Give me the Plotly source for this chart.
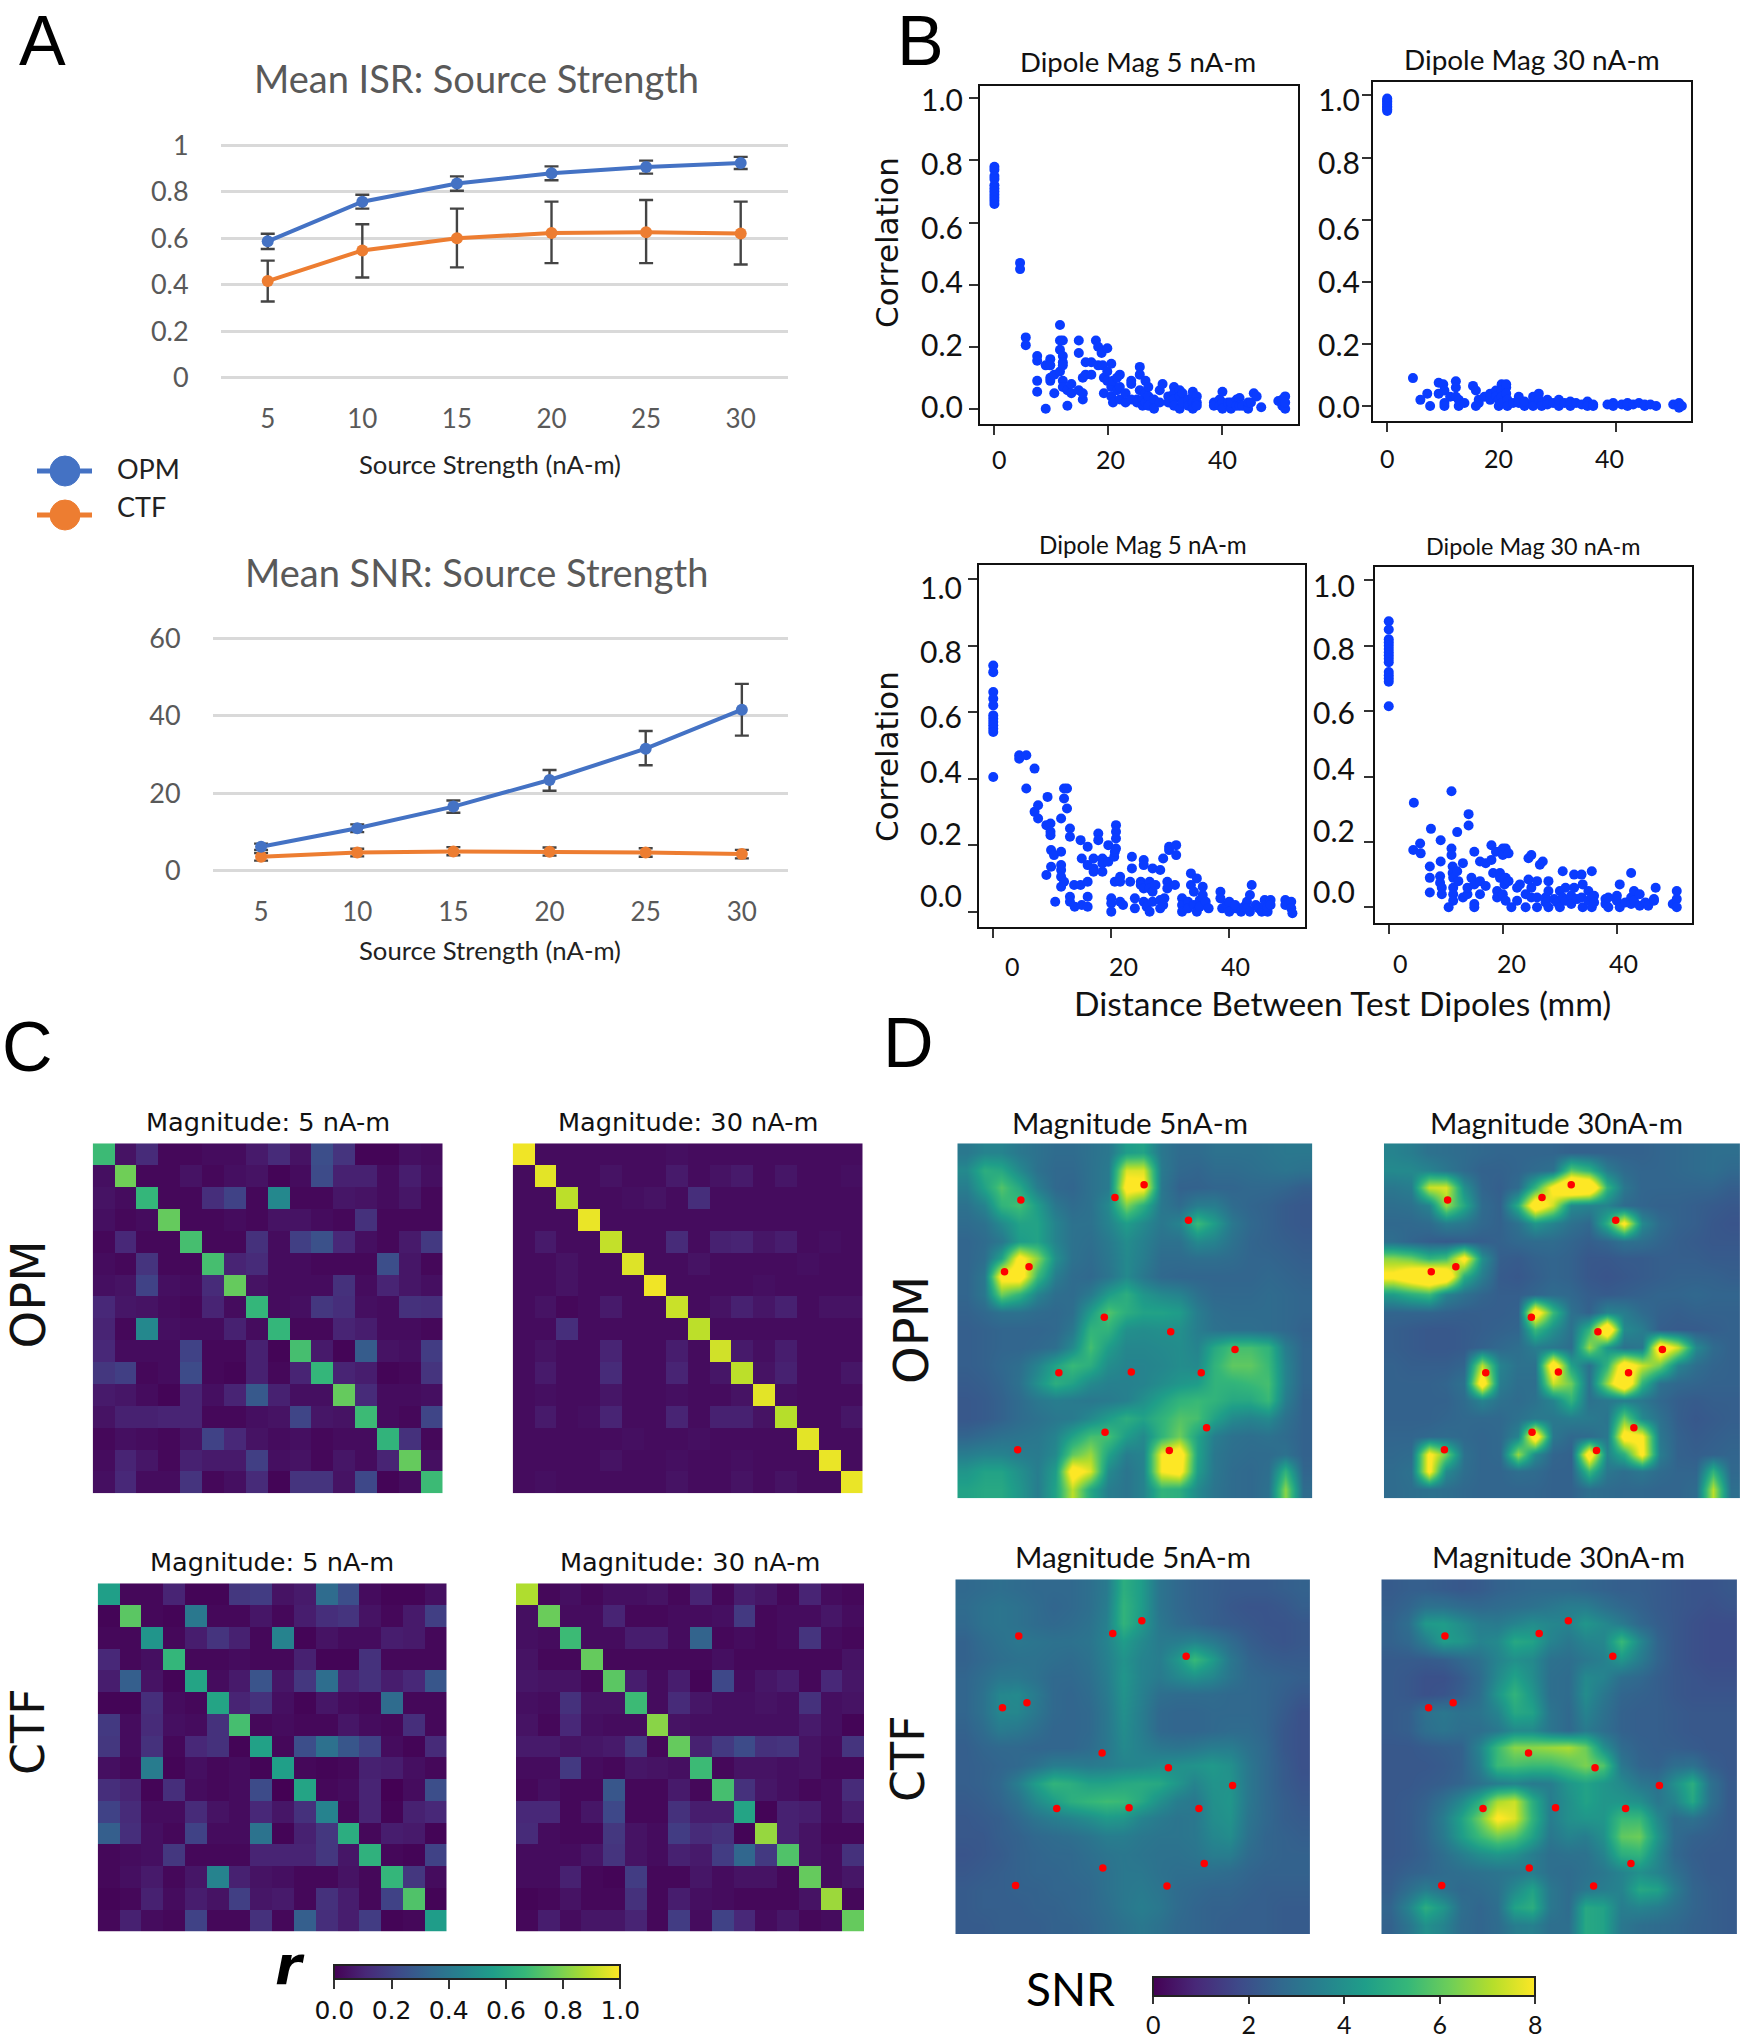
import plotly.graph_objects as go

W, H = 1746, 2040

# ---------- Panel A data ----------
strength = [5, 10, 15, 20, 25, 30]
isr_opm = [.587, .758, .836, .880, .907, .925]
isr_opm_hi = [.620, .788, .867, .910, .935, .951]
isr_opm_lo = [.554, .728, .805, .850, .879, .899]
isr_ctf = [.416, .548, .600, .623, .626, .621]
isr_ctf_hi = [.504, .661, .728, .758, .765, .758]
isr_ctf_lo = [.328, .431, .475, .493, .493, .487]
snr_opm = [6.1, 10.9, 16.5, 23.4, 31.5, 41.6]
snr_opm_hi = [6.9, 11.9, 18.1, 26.0, 36.1, 48.3]
snr_opm_lo = [5.3, 9.9, 14.9, 20.6, 27.2, 34.9]
snr_ctf = [3.5, 4.6, 4.9, 4.8, 4.6, 4.2]
snr_ctf_hi = [4.5, 5.6, 6.0, 5.9, 5.7, 5.3]
snr_ctf_lo = [2.5, 3.6, 3.9, 3.8, 3.5, 3.1]

# ---------- Panel B data (distance mm, correlation) ----------
b1_pts = [(0,.78),(0,.77),(0,.75),(0,.74),(0,.72),(0,.71),(0,.70),(0,.69),(0,.68),(0,.67),(0,.66),
 (4.5,.47),(4.5,.45),(5.5,.23),(5.5,.205),(7.5,.17),(7.5,.155),(7.5,.09),(7.5,.055),(9,0),(9,.14),
 (9.8,.16),(9.8,.14),(9.8,.10),(9.8,.09),(10.5,.05),(10.5,.11),(11.5,.27),(11.5,.22),(11.5,.19),(11.5,.12),
 (12,.22),(12,.17),(12,.15),(12,.14),(12,.09),(12,.07),(12.8,.01),(12.8,.06),(13.5,.05),(13.5,.08),
 (14.8,.22),(14.8,.18),(14.8,.06),(15.5,.03),(15.5,.05),(15.5,.10),(16,.15),(16,.11),(17,.15),(17,.11),
 (17.8,.22),(18.2,.20),(18.2,.14),(18.8,.18),(19,.14),(19.2,.10),(19.2,.05),(19.8,.195),(19.8,.12),(19.8,.09),
 (20.5,.145),(20.5,.07),(20.5,.04),(20.8,.02),(20.8,.09),(21.5,.10),(21.5,.06),(22,.11),(22,.07),(22,.03),
 (23,.02),(23,.05),(24,.08),(24,.09),(24,.03),(25,.03),(25,.02),(25.5,.135),(25.5,.11),(25.5,.06),(26,.03),(26,.01),
 (26.5,.09),(26.5,.05),(26.5,.02),(27,.07),(27,.04),(27,.01),(28,.03),(28,0),(29,.06),(29,.02),(29.5,.08),
 (30.5,.04),(30.5,.02),(31.5,.07),(31.5,.05),(31.5,.03),(31.5,.01),(32.5,.06),(32.5,.04),(32.5,0),(33,.05),(33,.02),
 (34,.03),(34,.01),(34.8,.055),(34.8,.04),(34.8,.02),(34.8,0),(35.5,.04),(35.5,.02),(35.5,.01),(38.5,.02),(38.5,.01),
 (39.5,.03),(39.5,.01),(40,.055),(40,.02),(40,0),(41,.02),(41.5,0),(41.5,.02),(42.5,.03),(42.5,.01),(43,.035),(43,.01),
 (43.5,.01),(44.5,0),(44.5,.02),(45,.02),(45.5,.05),(46,.04),(46.8,.005),(49.8,.025),(50.5,.03),(50.5,.01),(51,.04),(51,0),(51,.02)]
b2_pts = [(0,.99),(0,.985),(0,.98),(0,.975),(0,.97),(0,.965),(0,.96),(0,.955),(0,.95),
 (4.5,.09),(5.8,.02),(7,.04),(7.5,0),(9,.075),(9,.04),(9.8,.07),(10,.05),(10,.01),(10,0),(11,.03),
 (12,.08),(12,.06),(12,.03),(12.5,0),(12.5,.02),(13.5,.01),(15,.065),(15.5,.05),(15.5,0),(16,.02),(16,.01),
 (17,.03),(18,.02),(18,.04),(19,.05),(19,.03),(19.5,0),(19.5,.02),(20,.07),(20,.05),(20,.03),(20,.01),
 (20.8,.06),(20.8,.07),(20.8,.04),(21,.02),(21,0),(22,.01),(23,.03),(23,.01),(24,0),(24,.015),
 (25.5,.01),(25.5,0),(25.5,.03),(26.5,.04),(26.5,.02),(27,.01),(27,0),(28,.02),(28,.005),(29,.01),(30,0),(30,.02),
 (31,.01),(32,0),(32,.015),(33,.01),(34,.005),(35,.015),(35,0),(36,.005),(36,0),(38.5,.005),(39.5,.01),(39.5,0),
 (41,.005),(42,0),(42,.01),(43,.005),(44,.01),(45,0),(45,.005),(46,.005),(47,0),(50,.005),(51,.01),(51,-.005),(51.5,0)]
b3_pts = [(0,.74),(0,.72),(0,.66),(0,.64),(0,.62),(0,.59),(0,.58),(0,.57),(0,.56),(0,.55),(0,.54),(0,.405),
 (4.4,.47),(4.4,.46),(5.6,.47),(7,.43),(5.6,.37),(7,.30),(7.6,.32),(7.6,.28),(9.2,.345),(9,.26),(9.7,.265),(9.7,.24),(9.7,.23),
 (9.8,.185),(10.3,.17),(9.8,.135),(9,.11),(10.5,.03),(11.5,.18),(11.5,.28),(12,.37),(12,.34),(12.5,.37),(12.5,.31),
 (13,.25),(13,.225),(11.5,.14),(11.5,.125),(11.5,.105),(11.5,.075),(12,.09),(13,.03),(13,.045),(13.7,.08),(13.8,.015),
 (14.8,.215),(14.8,.08),(15,.16),(15,.02),(16,.14),(16,.195),(16,.09),(16,.045),(16,.015),(17,.16),(17,.13),(17,.12),
 (17.8,.235),(17.8,.215),(18.5,.16),(18.5,.12),(18.5,.145),(19.5,.2),(19.5,.15),(20,.04),(20,0),(20,.025),(20.5,.165),
 (20.6,.18),(20.6,.09),(20.8,.26),(20.8,.24),(20.8,.22),(20.8,.19),(21.5,.105),(21.5,.09),(21.5,.03),(22,.02),(23.2,.09),
 (23.5,.165),(23.5,.13),(24,.04),(24,.01),(25,.09),(25,.08),(25.5,.155),(25.5,.14),(25.5,.07),(25.5,.03),(26,.015),
 (26.5,0),(26.5,.09),(26.5,.07),(27,.13),(27,.06),(27,.03),(27.5,.08),(28.3,.125),(28.3,.01),(28.3,.035),(28.8,.16),(28.8,.02),
 (29,.04),(29.5,.09),(29.5,.07),(29.8,.195),(29.8,.185),(30.8,.08),(31,.20),(31,.17),(32,.04),(32,.02),(32,0),(33,.03),(33,.01),
 (33.5,.115),(33.5,.08),(34,.06),(34,.02),(34.5,.1),(34.5,0),(35,.035),(35,.015),(35.5,.075),(35.5,.05),(36,.03),(36.5,.01),
 (38.5,.06),(38.5,.04),(38.8,.01),(39.5,.02),(40,.03),(40,0),(41,.01),(41,.02),(42,0),(42.5,.015),(43,.03),(43,.01),
 (43.5,0),(43.5,.05),(43.8,.08),(44.5,.02),(45,.01),(45.5,0),(46,.035),(46,.02),(46.5,0),(46.5,.015),(47,.035),(47,.02),
 (49.5,.035),(49.5,.02),(50.5,.03),(50.5,.01),(50.7,-.005)]
b4_pts = [(0,.875),(0,.85),(0,.82),(0,.81),(0,.80),(0,.79),(0,.78),(0,.77),(0,.76),(0,.75),(0,.72),(0,.71),(0,.70),(0,.69),(0,.615),
 (4.4,.32),(4.3,.175),(5.5,.195),(5.6,.165),(7.4,.24),(7.2,.125),(7.2,.09),(7.2,.045),(9.1,.205),(9.1,.14),(9,.095),(9,.075),
 (9.3,.06),(9.3,.04),(10.5,0),(11,.355),(11,.18),(11,.16),(11.2,.125),(11.2,.105),(11.3,.09),(11.3,.06),(11.3,.04),(11.3,.02),
 (12,.23),(12,.11),(12.2,.08),(13,.03),(13,.135),(13.8,.04),(13.8,.06),(14,.285),(14,.25),(14.5,.09),(15,.17),(15,.07),(15,.01),(15,0),
 (16,.14),(16,.08),(16,.04),(17,.135),(17,.065),(18,.19),(18,.145),(18.3,.105),(18.8,.17),(19,.05),(19,.03),(19.5,.105),(19.5,.09),
 (20,.18),(20,.16),(20,.04),(20.3,.07),(20.5,.18),(20.5,.09),(20.5,.02),(21,.165),(21,.08),(21.5,0),(22.5,.06),(22.5,.02),(23,.07),
 (24,0),(24,.04),(24.5,.085),(24.5,.15),(25,.16),(25,.06),(25,.03),(26,.08),(26,.03),(26,0),(26.5,.13),(27,.14),(27.5,.03),(27.5,.015),
 (28,.08),(28,0),(28,.05),(29,.025),(29.5,.015),(30,.05),(30,0),(30.5,.11),(30.5,.03),(31,.06),(31,.02),(32,.035),(32,.01),
 (32.5,.1),(32.5,.06),(33,.025),(33.8,.10),(33.8,.03),(34,0),(34,.07),(35,.02),(35,.05),(35.6,.11),(35.6,.03),(35.6,0),(36,.035),(36,.015),
 (38,.025),(38,.01),(38.5,.03),(38.5,0),(40,.02),(40,.035),(40.5,.07),(40.5,0),(41.5,.015),(42.5,.105),(42.5,.03),(42.5,.01),
 (43,.05),(43,.02),(44,.005),(44,.04),(45,.015),(45.5,.005),(46.5,.02),(46.5,.025),(46.8,.06),(49.8,.01),(50.5,.05),(50.5,.025),(50.5,0)]

# ---------- Panel C data (r) ----------
c_opm_5 = [
[.68,.05,.12,.02,.02,.03,.03,.07,.12,.05,.24,.15,.01,.01,.04,.03],
[.04,.78,.02,.02,.05,.02,.04,.05,.01,.03,.23,.09,.09,.03,.08,.04],
[.05,.03,.66,.02,.02,.13,.20,.02,.47,.02,.02,.06,.05,.03,.06,.02],
[.04,.02,.03,.76,.02,.02,.03,.02,.05,.05,.03,.02,.14,.02,.02,.02],
[.02,.11,.02,.02,.70,.02,.02,.14,.03,.19,.25,.11,.04,.02,.07,.17],
[.03,.02,.15,.02,.02,.70,.10,.12,.03,.03,.02,.02,.02,.24,.06,.02],
[.04,.05,.20,.04,.03,.12,.76,.05,.03,.03,.03,.14,.03,.10,.06,.04],
[.11,.06,.05,.03,.02,.10,.03,.66,.03,.04,.16,.13,.04,.03,.14,.13],
[.10,.02,.47,.04,.03,.03,.09,.03,.66,.02,.02,.10,.08,.03,.03,.02],
[.11,.03,.03,.03,.20,.02,.02,.09,.01,.70,.07,.01,.29,.05,.04,.18],
[.16,.19,.02,.03,.23,.02,.01,.09,.02,.10,.66,.10,.08,.01,.02,.15],
[.07,.06,.03,.01,.10,.04,.10,.28,.09,.04,.04,.76,.12,.03,.03,.04],
[.05,.09,.09,.10,.10,.02,.02,.04,.05,.21,.06,.05,.68,.03,.02,.21],
[.02,.04,.03,.02,.05,.20,.11,.05,.03,.04,.02,.03,.03,.65,.14,.02],
[.03,.10,.06,.02,.09,.07,.07,.19,.04,.05,.02,.06,.03,.10,.76,.04],
[.04,.11,.03,.03,.15,.02,.04,.12,.01,.15,.15,.05,.22,.01,.03,.68]]
c_opm_30 = [
[.98,.03,.03,.03,.03,.03,.03,.04,.03,.03,.03,.03,.03,.03,.03,.03],
[.03,.96,.03,.03,.05,.03,.03,.07,.03,.05,.07,.03,.06,.03,.03,.04],
[.03,.03,.90,.03,.03,.04,.05,.03,.13,.03,.03,.03,.03,.03,.03,.03],
[.03,.03,.03,.97,.03,.03,.03,.03,.03,.03,.03,.03,.03,.03,.03,.03],
[.03,.07,.03,.03,.91,.03,.03,.12,.03,.09,.10,.06,.08,.03,.04,.03],
[.03,.03,.05,.03,.03,.95,.03,.03,.05,.03,.03,.03,.03,.04,.03,.03],
[.03,.03,.05,.03,.03,.03,.98,.03,.03,.03,.03,.04,.03,.03,.03,.03],
[.03,.05,.02,.03,.07,.03,.03,.92,.03,.05,.09,.06,.09,.03,.05,.05],
[.03,.03,.13,.03,.03,.03,.03,.03,.90,.03,.03,.03,.03,.03,.03,.03],
[.03,.05,.03,.03,.10,.03,.03,.08,.03,.93,.07,.04,.08,.03,.03,.03],
[.03,.07,.03,.03,.12,.03,.03,.10,.03,.06,.90,.05,.09,.03,.03,.06],
[.03,.04,.03,.03,.06,.03,.03,.04,.03,.03,.05,.96,.04,.03,.03,.03],
[.03,.07,.03,.04,.10,.03,.03,.10,.03,.09,.09,.05,.89,.03,.03,.06],
[.03,.03,.03,.03,.03,.04,.03,.03,.04,.03,.03,.03,.03,.96,.03,.03],
[.03,.03,.03,.03,.05,.03,.03,.04,.03,.03,.04,.03,.03,.03,.97,.03],
[.03,.04,.03,.03,.03,.03,.03,.05,.03,.03,.05,.03,.05,.03,.03,.97]]
c_ctf_5 = [
[.56,.02,.02,.10,.01,.01,.16,.18,.05,.07,.35,.24,.03,.01,.01,.04],
[.01,.74,.02,.01,.40,.02,.02,.06,.02,.08,.13,.15,.05,.02,.07,.19],
[.02,.02,.52,.02,.08,.15,.09,.02,.45,.01,.05,.03,.03,.08,.07,.02],
[.11,.02,.04,.66,.02,.02,.03,.02,.02,.09,.01,.01,.14,.02,.02,.02],
[.08,.30,.05,.01,.58,.03,.07,.26,.06,.16,.36,.10,.14,.08,.11,.27],
[.01,.01,.13,.03,.02,.58,.10,.14,.04,.01,.06,.03,.02,.35,.02,.02],
[.17,.03,.12,.04,.03,.14,.70,.02,.03,.02,.02,.06,.03,.02,.13,.02],
[.16,.03,.14,.02,.11,.14,.01,.57,.02,.24,.37,.27,.20,.03,.01,.12],
[.04,.02,.42,.01,.04,.02,.03,.01,.56,.02,.01,.02,.09,.08,.04,.02],
[.13,.10,.01,.13,.03,.02,.03,.23,.00,.58,.02,.03,.10,.00,.03,.24],
[.20,.12,.03,.03,.12,.05,.03,.11,.06,.14,.45,.02,.10,.01,.09,.11],
[.30,.13,.04,.02,.20,.03,.03,.38,.01,.09,.16,.62,.02,.08,.07,.01],
[.02,.03,.04,.16,.02,.02,.02,.10,.10,.10,.16,.06,.64,.02,.01,.20],
[.02,.04,.07,.02,.06,.45,.09,.05,.04,.02,.02,.05,.02,.66,.16,.03],
[.01,.02,.09,.03,.08,.05,.19,.06,.07,.02,.14,.08,.02,.20,.72,.01],
[.02,.09,.03,.02,.20,.02,.02,.14,.02,.30,.13,.08,.18,.01,.02,.55]]
c_ctf_30 = [
[.88,.02,.04,.02,.04,.04,.05,.02,.10,.02,.08,.06,.02,.10,.03,.02],
[.04,.77,.03,.03,.10,.02,.02,.03,.03,.04,.17,.02,.03,.03,.06,.03],
[.04,.03,.68,.03,.03,.08,.08,.03,.32,.02,.03,.02,.03,.15,.03,.02],
[.05,.02,.02,.76,.02,.02,.02,.02,.02,.04,.02,.02,.02,.02,.02,.05],
[.06,.05,.05,.02,.74,.08,.03,.08,.01,.22,.03,.06,.08,.02,.11,.06],
[.04,.03,.14,.05,.05,.68,.03,.12,.06,.04,.04,.05,.04,.14,.04,.05],
[.05,.02,.11,.04,.03,.03,.82,.05,.04,.04,.04,.04,.04,.07,.04,.01],
[.07,.07,.05,.06,.07,.16,.02,.76,.09,.17,.23,.14,.15,.05,.03,.15],
[.03,.03,.17,.03,.02,.06,.05,.04,.68,.02,.05,.05,.04,.05,.02,.02],
[.02,.04,.02,.02,.27,.02,.02,.07,.02,.70,.14,.06,.04,.02,.03,.12],
[.11,.11,.02,.06,.22,.02,.02,.14,.08,.08,.58,.01,.09,.08,.03,.08],
[.12,.03,.02,.02,.16,.05,.03,.18,.12,.14,.01,.84,.09,.05,.02,.02],
[.03,.03,.03,.06,.15,.05,.03,.09,.07,.18,.33,.17,.72,.05,.03,.14],
[.03,.03,.09,.02,.01,.18,.02,.02,.06,.03,.05,.05,.02,.76,.03,.06],
[.01,.02,.05,.02,.02,.14,.02,.08,.04,.03,.02,.02,.02,.05,.85,.02],
[.02,.08,.03,.06,.06,.10,.02,.18,.03,.20,.11,.03,.06,.02,.03,.76]]

# ---------- Panel D data (SNR on a coarse reading grid) ----------
d_grid = [2.5, 7.5, 12.5, 17.5, 22.5, 27.5, 32.5, 37.5, 42.5, 47.5, 52.5, 57.5, 62.5, 67.5, 72.5, 77.5, 82.5, 87.5, 92.5, 97.5]
d_opm_5 = [
[3.2,3.6,3.6,3.2,3.0,2.8,2.8,3.0,3.2,4.4,4.6,3.2,2.8,2.8,3.0,3.0,3.0,3.1,3.2,3.2],
[3.8,5.0,4.8,3.8,3.0,2.7,2.7,3.0,3.3,7.6,7.6,3.3,2.7,2.6,2.8,2.8,2.9,3.0,3.1,3.0],
[3.4,4.6,5.8,4.8,3.4,2.7,2.6,3.0,3.3,8.6,8.4,3.2,2.5,2.5,2.6,2.6,2.7,2.7,2.6,2.4],
[3.0,3.6,5.2,5.6,4.4,3.2,2.8,3.0,3.8,6.4,5.0,3.2,2.8,3.4,3.4,2.8,2.6,2.5,2.3,2.2],
[2.8,3.0,3.8,4.6,4.6,3.6,3.0,3.0,3.6,4.4,3.8,3.2,3.6,5.4,4.4,3.2,2.7,2.5,2.3,2.2],
[2.6,2.8,3.2,4.4,4.6,3.6,3.0,2.9,3.3,3.9,3.5,3.0,3.0,3.8,3.6,3.0,2.6,2.5,2.4,2.3],
[2.6,2.9,4.6,8.6,6.6,4.0,3.0,2.8,3.2,3.8,3.4,2.8,2.8,2.9,2.9,2.8,2.6,2.6,2.5,2.4],
[2.6,3.2,8.6,9.0,5.4,3.4,2.8,2.7,3.1,3.8,3.2,2.7,2.6,2.6,2.6,2.6,2.6,2.7,2.6,2.5],
[2.6,3.2,6.2,5.2,3.6,2.9,2.8,3.3,4.4,5.0,4.2,3.8,3.6,3.0,2.7,2.7,2.7,2.8,2.7,2.6],
[2.5,2.7,3.0,3.0,2.8,2.7,2.9,4.4,5.8,5.0,4.6,4.6,4.4,3.4,2.9,2.8,2.8,2.8,2.7,2.6],
[2.4,2.5,2.6,2.6,2.6,2.7,3.2,5.2,5.2,4.0,3.9,4.0,4.0,3.4,3.0,2.9,2.9,2.8,2.7,2.5],
[2.4,2.5,2.6,2.6,2.7,2.9,3.8,5.6,4.4,3.7,3.7,3.8,3.9,3.6,4.8,5.6,5.6,5.2,3.4,2.6],
[2.4,2.5,2.7,2.9,3.6,4.6,5.4,5.0,3.9,3.6,3.6,3.7,3.9,3.8,5.2,6.0,6.0,5.4,3.6,2.6],
[2.3,2.4,2.6,3.0,4.0,5.0,4.6,3.8,3.5,3.5,3.6,3.9,4.2,4.4,5.2,5.2,5.4,5.6,3.6,2.6],
[2.2,2.3,2.5,2.8,3.2,3.4,3.3,3.2,3.3,3.5,4.0,4.6,5.2,5.4,5.2,4.8,4.8,5.4,3.4,2.5],
[2.2,2.3,2.5,2.8,3.0,3.2,3.3,3.8,4.4,5.0,4.6,5.2,5.8,5.6,4.6,3.8,3.6,3.8,3.0,2.5],
[2.6,2.8,3.0,3.1,3.2,3.6,4.6,5.6,5.6,4.4,3.8,5.2,6.2,4.6,3.4,3.0,2.9,3.0,2.8,2.5],
[3.4,3.6,3.6,3.4,3.3,3.8,6.0,6.8,4.6,3.4,3.6,8.0,9.0,4.6,3.2,2.9,2.8,2.8,3.0,2.5],
[4.2,4.6,4.6,4.0,3.4,4.4,8.8,7.6,3.8,3.1,3.6,8.0,8.6,4.4,3.2,2.8,2.7,2.9,5.2,2.6],
[4.6,4.8,4.8,4.2,3.4,4.6,7.2,4.8,3.4,3.1,3.6,5.2,5.0,3.8,3.1,2.8,2.7,3.0,6.6,2.8]]
d_opm_30 = [
[3.6,3.4,3.0,2.9,2.8,2.7,2.6,2.6,2.6,2.6,2.5,2.5,2.5,2.5,2.5,2.6,2.7,2.8,2.9,2.9],
[3.8,3.8,3.6,3.2,2.8,2.5,2.5,2.6,2.8,3.0,6.0,5.2,3.4,2.8,2.6,2.6,2.7,2.8,2.9,2.7],
[3.2,3.4,7.4,7.6,4.0,2.6,2.4,2.8,5.2,8.4,11,10.4,5.2,3.2,2.6,2.6,2.6,2.6,2.6,2.4],
[2.9,3.0,3.6,6.8,4.8,2.8,2.5,5.0,9.4,7.4,3.8,3.6,3.6,2.8,2.6,2.5,2.5,2.4,2.3,2.2],
[2.7,2.7,2.8,3.4,3.2,2.7,2.5,3.0,4.2,3.6,3.0,2.7,5.0,8.4,3.8,2.8,2.5,2.4,2.2,2.1],
[2.9,2.6,2.4,2.3,2.4,2.4,2.5,2.7,2.8,2.8,2.6,2.4,2.6,3.0,2.9,2.6,2.4,2.3,2.2,2.2],
[6.6,6.2,5.2,5.6,8.6,4.0,2.4,2.3,2.5,2.6,2.5,2.2,2.2,2.3,2.3,2.4,2.4,2.4,2.3,2.3],
[8.4,9.4,10.4,9.8,5.0,3.4,2.3,2.2,2.4,2.6,2.5,2.2,2.1,2.2,2.3,2.4,2.5,2.5,2.5,2.4],
[4.4,5.0,5.4,3.6,3.0,2.6,2.4,2.4,2.6,2.8,2.7,2.4,2.3,2.4,2.5,2.6,2.6,2.7,2.6,2.6],
[2.6,2.6,2.6,2.5,2.4,2.4,2.4,2.5,9.2,5.4,3.0,2.5,3.6,3.4,2.8,2.5,2.4,2.5,2.5,2.5],
[2.4,2.3,2.2,2.2,2.3,2.4,2.5,2.6,5.4,4.0,3.0,5.2,10.2,3.8,3.4,2.4,2.3,2.3,2.4,2.5],
[2.4,2.3,2.2,2.2,2.3,2.5,2.7,2.9,3.4,3.2,2.9,6.8,4.2,3.0,3.2,9.4,7.4,3.8,2.8,2.5],
[2.5,2.4,2.4,2.4,2.6,7.2,3.6,3.0,3.0,9.4,4.6,3.0,5.2,9.2,7.4,6.2,3.6,2.9,2.6,2.5],
[2.5,2.5,2.5,2.6,3.0,9.2,3.4,2.9,2.9,7.4,6.2,3.0,6.8,10.2,5.2,3.0,2.7,2.6,2.5,2.5],
[2.5,2.5,2.5,2.5,2.8,3.6,3.0,2.8,3.0,3.6,5.2,3.0,3.2,3.4,3.2,2.7,2.4,2.3,2.4,2.4],
[2.5,2.5,2.5,2.6,2.7,2.7,2.7,3.0,3.3,3.2,3.4,3.3,3.1,6.2,3.8,3.0,2.4,2.2,2.3,2.4],
[2.6,2.6,2.7,2.8,2.7,2.6,2.7,3.6,9.4,3.2,2.7,2.8,3.2,8.8,8.2,3.2,2.5,2.3,2.4,2.5],
[2.7,2.8,8.4,6.2,3.0,2.6,2.7,6.8,3.8,2.6,2.5,9.2,3.6,5.0,8.4,3.4,2.5,2.4,2.5,2.6],
[2.8,3.0,8.4,3.8,2.9,2.6,2.6,2.9,2.8,2.5,2.5,5.4,3.2,2.9,3.2,2.8,2.6,2.6,5.2,2.7],
[2.8,2.9,3.0,2.9,2.7,2.6,2.6,2.6,2.6,2.5,2.5,2.9,2.8,2.7,2.7,2.6,2.6,2.8,7.2,2.9]]
d_ctf_5 = [
[2.7,2.8,2.9,2.8,2.7,2.7,2.7,2.9,3.3,5.0,4.4,3.1,2.7,2.5,2.4,2.3,2.3,2.3,2.4,2.5],
[2.8,3.0,3.1,3.0,2.8,2.6,2.7,2.9,3.4,5.2,4.4,3.1,2.7,2.5,2.4,2.2,2.1,2.1,2.2,2.4],
[2.7,3.0,3.1,3.0,2.8,2.7,2.8,3.0,3.5,5.2,4.3,3.2,2.8,2.6,2.4,2.3,2.2,2.1,2.1,2.2],
[2.5,2.8,3.0,3.2,3.1,3.0,3.0,3.1,3.6,4.4,3.8,3.3,3.4,3.6,3.3,2.8,2.4,2.2,2.1,2.2],
[2.5,2.7,2.9,3.0,3.0,2.9,2.8,3.0,3.5,4.1,3.6,3.4,4.2,5.4,4.4,3.2,2.6,2.4,2.3,2.3],
[2.6,2.9,3.2,3.2,3.0,2.7,2.7,2.9,3.4,4.2,3.6,3.3,3.7,4.0,3.7,3.1,2.7,2.6,2.5,2.4],
[2.6,3.0,3.7,3.8,3.3,2.7,2.6,2.8,3.3,4.1,3.5,2.9,2.8,2.8,2.8,2.7,2.7,2.6,2.4,2.2],
[2.6,3.0,3.7,3.7,3.2,2.7,2.6,2.7,3.2,4.0,3.4,2.7,2.6,2.6,2.7,2.7,2.7,2.6,2.3,2.0],
[2.5,2.8,3.3,3.2,2.9,2.6,2.6,2.7,3.2,3.9,3.4,2.7,2.6,2.6,2.7,2.8,2.8,2.6,2.2,2.0],
[2.4,2.6,2.7,2.7,2.6,2.6,2.6,2.8,3.2,3.8,3.5,3.2,3.1,3.2,3.4,3.4,3.0,2.7,2.2,2.0],
[2.4,2.5,2.6,2.7,3.0,3.4,3.4,3.3,3.4,3.6,3.7,3.9,4.0,4.1,4.3,4.0,3.2,2.7,2.3,2.0],
[2.4,2.5,2.7,3.4,4.4,5.2,5.0,4.6,4.6,4.8,4.9,4.8,4.2,3.6,4.1,4.1,3.2,2.7,2.3,2.1],
[2.3,2.4,2.6,3.0,3.8,4.4,5.0,5.3,5.5,5.4,4.8,4.0,3.4,3.2,4.0,4.2,3.2,2.7,2.4,2.2],
[2.2,2.3,2.4,2.7,3.1,3.4,3.6,3.9,4.3,4.2,3.6,3.3,3.1,3.2,3.9,4.1,3.1,2.7,2.4,2.3],
[2.2,2.2,2.4,2.5,2.7,2.8,2.9,3.1,3.4,3.4,3.2,3.1,3.1,3.2,3.7,3.9,3.0,2.6,2.5,2.4],
[2.1,2.2,2.3,2.5,2.6,2.7,2.7,2.9,3.1,3.2,3.1,3.0,3.0,3.1,3.4,3.4,2.8,2.6,2.5,2.5],
[2.2,2.3,2.4,2.5,2.6,2.6,2.7,2.8,3.0,3.2,3.2,3.0,2.9,2.9,2.9,2.8,2.6,2.5,2.5,2.5],
[2.3,2.4,2.4,2.5,2.5,2.6,2.6,2.7,3.0,3.2,3.3,3.1,2.8,2.7,2.6,2.6,2.5,2.4,2.4,2.4],
[2.3,2.4,2.4,2.4,2.5,2.5,2.6,2.7,2.9,3.2,3.4,3.2,2.8,2.6,2.5,2.5,2.4,2.4,2.3,2.3],
[2.3,2.3,2.4,2.4,2.4,2.5,2.5,2.6,2.8,3.0,3.2,3.0,2.7,2.6,2.5,2.4,2.4,2.4,2.3,2.3]]
d_ctf_30 = [
[2.3,2.4,2.4,2.3,2.2,2.3,2.5,2.6,2.7,2.7,2.7,2.6,2.5,2.4,2.4,2.3,2.2,2.1,2.1,2.2],
[2.4,2.6,3.0,3.0,2.8,2.7,2.8,2.9,3.0,3.2,3.4,3.4,3.0,2.7,2.5,2.3,2.2,2.1,2.0,2.1],
[2.5,2.9,4.3,4.4,3.9,3.4,3.3,3.6,3.9,3.7,3.6,4.2,3.8,3.3,2.7,2.4,2.2,2.0,1.9,1.9],
[2.5,2.7,3.4,4.4,4.2,3.6,3.8,4.8,4.6,3.6,3.2,3.6,3.7,5.4,3.8,2.6,2.2,2.0,1.9,1.9],
[2.3,2.3,2.3,2.4,2.7,3.0,3.6,4.0,3.8,3.0,2.9,3.2,3.5,4.2,3.4,2.6,2.2,2.0,1.9,1.9],
[2.3,2.2,2.0,2.0,2.3,2.8,3.8,4.6,3.9,2.9,2.8,3.8,3.6,2.9,2.7,2.4,2.2,2.1,2.0,2.0],
[2.3,2.2,2.0,2.1,2.4,2.9,4.2,5.2,4.2,2.9,2.8,3.9,3.2,2.6,2.5,2.4,2.2,2.1,2.1,2.1],
[2.3,2.4,3.0,3.2,3.0,3.1,3.6,4.8,4.6,3.1,2.7,3.6,3.0,2.5,2.4,2.4,2.3,2.2,2.2,2.2],
[2.3,2.4,2.9,3.1,2.9,2.9,3.2,3.8,3.8,3.1,2.7,3.3,2.9,2.5,2.4,2.4,2.3,2.2,2.2,2.2],
[2.2,2.2,2.3,2.4,2.5,3.6,5.4,6.6,6.6,6.8,7.0,6.2,4.0,2.8,2.5,2.4,2.4,2.3,2.2,2.2],
[2.2,2.2,2.2,2.3,2.5,3.4,5.4,5.6,5.4,5.4,5.8,6.4,5.8,3.2,2.6,2.5,2.9,3.0,2.4,2.2],
[2.2,2.2,2.3,2.4,2.6,3.0,3.4,3.6,3.3,3.4,4.2,4.6,4.2,3.8,3.2,3.0,4.0,5.0,3.0,2.3],
[2.2,2.3,2.5,3.0,3.8,5.0,7.0,7.4,5.0,3.4,4.0,4.6,4.2,4.2,4.0,3.2,3.6,4.8,3.0,2.3],
[2.2,2.3,2.6,3.4,4.6,6.2,8.2,7.6,5.2,3.4,4.0,4.2,4.2,5.4,5.4,3.8,2.8,3.0,2.6,2.3],
[2.2,2.3,2.6,3.3,4.4,5.4,6.2,5.8,4.6,3.2,3.6,3.4,4.0,6.0,6.2,4.2,2.8,2.5,2.4,2.3],
[2.2,2.3,2.5,2.9,3.4,3.9,4.2,4.0,3.4,2.9,3.0,3.0,3.6,5.0,5.2,3.8,2.7,2.4,2.3,2.3],
[2.3,2.5,2.6,2.8,2.9,3.0,3.1,3.2,3.4,2.9,2.8,3.0,3.2,3.6,4.0,3.6,3.0,2.5,2.3,2.3],
[2.4,2.9,3.4,3.0,2.7,2.8,3.0,3.8,4.6,3.2,2.8,3.2,3.4,3.6,4.8,4.6,3.4,2.6,2.4,2.3],
[2.6,3.6,5.0,4.2,2.9,2.6,2.9,4.6,5.0,3.2,2.8,4.8,4.6,3.4,3.6,3.4,3.0,2.6,2.4,2.3],
[2.5,3.1,4.0,3.6,2.8,2.6,2.8,3.4,3.5,2.9,2.9,4.8,4.6,3.2,2.9,2.8,2.7,2.5,2.4,2.3]]
dipole_x = [17.9, 44.4, 52.6, 65.1, 13.3, 20.2, 41.4, 60.1, 78.2, 28.6, 49.0, 68.7, 41.6, 70.2, 17.0, 59.7]
dipole_y = [16.0, 15.3, 11.7, 21.7, 36.2, 34.8, 49.0, 53.1, 58.1, 64.6, 64.4, 64.6, 81.4, 80.1, 86.3, 86.5]

# ---------- Text ----------
letters = ["A", "B", "C", "D"]
b_y_labels = ["1.0", "0.8", "0.6", "0.4", "0.2", "0.0"]
b_y_ticks = [1.0, 0.8, 0.6, 0.4, 0.2, 0.0]
b_x_labels = ["0", "20", "40"]
b_x_ticks = [0, 20, 40]

# ---------- Layout helpers ----------
GRAY = "#595959"
LATO = "Lato, 'Open Sans', sans-serif"
DEJA = "'DejaVu Sans', sans-serif"
fig = go.Figure()
layout = {}
annotations = []
shapes = []
axis_n = [0]


def px(x):
    return x / W


def py(y):
    return 1 - y / H


def text(x, y, s, size, color="#111", font=LATO, anchor="center", angle=0):
    annotations.append(dict(x=px(x), y=py(y), xref="paper", yref="paper", text=s, showarrow=False,
                            font=dict(size=size, color=color, family=font), xanchor=anchor, yanchor="middle",
                            textangle=angle, borderpad=0, borderwidth=0))


def axes(left, right, top, bottom, xopt, yopt):
    axis_n[0] += 1
    n = axis_n[0]
    sx = "" if n == 1 else str(n)
    xopt = dict(xopt, domain=[px(left), px(right)], anchor="y" + sx)
    yopt = dict(yopt, domain=[py(bottom), py(top)], anchor="x" + sx)
    layout["xaxis" + sx] = xopt
    layout["yaxis" + sx] = yopt
    return "x" + sx, "y" + sx


def band(series, hi, lo):
    return dict(type="data", symmetric=False, array=[h - v for h, v in zip(hi, series)],
                arrayminus=[v - l for v, l in zip(series, lo)], color="#444444", thickness=2.4, width=7)


def line_panel(left, right, top, bottom, xr, yr, yticks, ylabels, opm, ctf, msize):
    # a few pixels of spare room keep the gridlines at both ends of the range visible
    pad_px = 3
    unit = (yr[1] - yr[0]) / (bottom - top)
    yr2 = [yr[0] - pad_px * unit, yr[1] + pad_px * unit]
    grid = dict(showgrid=True, gridcolor="#d9d9d9", gridwidth=3, zeroline=False, showline=False)
    xa, ya = axes(left, right, top - pad_px, bottom + pad_px,
                  dict(range=xr, tickvals=strength, ticktext=[str(v) for v in strength], showgrid=False, zeroline=False,
                       showline=False, ticks="outside", ticklen=0, ticklabelstandoff=15,
                       tickfont=dict(family=LATO, size=26, color=GRAY)),
                  dict(grid, range=yr2, tickvals=yticks, ticktext=ylabels, ticks="outside", ticklen=0,
                       ticklabelstandoff=26, tickfont=dict(family=LATO, size=27, color=GRAY)))
    for series, hi, lo, color in (ctf + ("#ed7d31",), opm + ("#4472c4",)):
        fig.add_trace(go.Scatter(x=strength, y=series, xaxis=xa, yaxis=ya, mode="lines+markers", cliponaxis=False,
                                 line=dict(color=color, width=4), marker=dict(color=color, size=msize),
                                 error_y=band(series, hi, lo), showlegend=False))


line_panel(221, 788, 145.5, 377.6, [2.53, 32.5], [0, 1], [0, .2, .4, .6, .8, 1],
           ["0", "0.2", "0.4", "0.6", "0.8", "1"], (isr_opm, isr_opm_hi, isr_opm_lo), (isr_ctf, isr_ctf_hi, isr_ctf_lo), 12)
line_panel(213, 788, 638.7, 870.3, [2.5, 32.4], [0, 60], [0, 20, 40, 60],
           ["0", "20", "40", "60"], (snr_opm, snr_opm_hi, snr_opm_lo), (snr_ctf, snr_ctf_hi, snr_ctf_lo), 12)
text(477, 78, "Mean ISR: Source Strength", 38, GRAY)
text(477, 572, "Mean SNR: Source Strength", 38, GRAY)
text(490, 464, "Source Strength (nA-m)", 25.7, "#222")
text(490, 950, "Source Strength (nA-m)", 25.7, "#222")

# Legend of panel A
for label, color, y_line, y_text in (("OPM", "#4472c4", 471, 469), ("CTF", "#ed7d31", 515, 506)):
    shapes.append(dict(type="line", xref="paper", yref="paper", x0=px(37), x1=px(92), y0=py(y_line), y1=py(y_line),
                       line=dict(color=color, width=5)))
    shapes.append(dict(type="circle", xref="paper", yref="paper", x0=px(50), x1=px(80), y0=py(y_line - 15), y1=py(y_line + 15),
                       fillcolor=color, line=dict(color=color, width=1)))
    text(117, y_text, label, 27, "#222", anchor="left")

# ---------- Panel B ----------
b_panels = [
    (b1_pts, "Dipole Mag 5 nA-m", 979.6, 1297.7, 86, 424, [-2.6, 53.2], [-.049, 1.04], 1138, 61.7, 27.5,
     963, [98.7, 163, 227, 281, 343.7, 405.7], [999.3, 1110.7, 1222], 459),
    (b2_pts, "Dipole Mag 30 nA-m", 1372.9, 1691, 82.3, 421, [-2.5, 53.1], [-.048, 1.042], 1532, 59, 27.9,
     1360, [98.7, 162.5, 227.5, 281.5, 343.5, 406], [1387.2, 1498, 1609.3], 457.7),
    (b3_pts, "Dipole Mag 5 nA-m", 978.5, 1305.4, 565, 927.3, [-2.5, 52.9], [-.047, 1.042], 1142.5, 545, 24.2,
     961.5, [587, 651, 716, 771, 833, 895], [1012.5, 1123.3, 1235.2], 966),
    (b4_pts, "Dipole Mag 30 nA-m", 1374.5, 1691.6, 566.7, 923.3, [-2.5, 53.1], [-.049, 1.042], 1532.5, 546, 23.4,
     1355, [585, 648, 712, 768, 830, 891], [1400.3, 1511.7, 1623], 963),
]
for pts, title, l, r, t, b, xr, yr, tx, ty, ts, yend, ylab_pos, xlab_pos, xlab_y in b_panels:
    frame = dict(showline=True, mirror=True, linecolor="#111", linewidth=2, showgrid=False, zeroline=False,
                 ticks="outside", ticklen=9, tickwidth=2, tickcolor="#333", showticklabels=False)
    xa, ya = axes(l, r, t, b, dict(frame, range=xr, tickvals=b_x_ticks), dict(frame, range=yr, tickvals=b_y_ticks))
    fig.add_trace(go.Scatter(x=[p[0] for p in pts], y=[p[1] for p in pts], xaxis=xa, yaxis=ya, mode="markers",
                             marker=dict(color="#0a3cff", size=10), showlegend=False))
    text(tx, ty, title, ts)
    for lab, pos in zip(b_y_labels, ylab_pos):
        text(yend, pos, lab, 30, anchor="right")
    for lab, pos in zip(b_x_labels, xlab_pos):
        text(pos, xlab_y, lab, 25)
text(887, 243, "Correlation", 31, "#111", DEJA, angle=-90)
text(887, 757, "Correlation", 31, "#111", DEJA, angle=-90)
text(1342, 1003, "Distance Between Test Dipoles (mm)", 33.6, "#111")

# ---------- Panel C ----------
c_panels = [
    (c_opm_5, 92.7, 442.7, 1143.3, 1493.3, "Magnitude: 5 nA-m", 267.7, 1121.7),
    (c_opm_30, 512.7, 862.7, 1143.3, 1493.3, "Magnitude: 30 nA-m", 688, 1121.7),
    (c_ctf_5, 97.7, 446.7, 1583.3, 1931.7, "Magnitude: 5 nA-m", 271.7, 1561.7),
    (c_ctf_30, 516, 864, 1583.3, 1931.7, "Magnitude: 30 nA-m", 690, 1561.7),
]
hidden = dict(visible=False, showgrid=False, zeroline=False)
for z, l, r, t, b, title, tx, ty in c_panels:
    xa, ya = axes(l, r, t, b, dict(hidden, range=[-.5, 15.5]), dict(hidden, range=[15.5, -.5]))
    fig.add_trace(go.Heatmap(z=z, xaxis=xa, yaxis=ya, coloraxis="coloraxis", hoverinfo="skip"))
    text(tx, ty, title, 25.6, "#111", DEJA)

# ---------- Panel D ----------
d_panels = [
    (d_opm_5, 957.3, 1312.4, 1143.3, 1498.3, "Magnitude 5nA-m", 1130.4, 1122, 29.5),
    (d_opm_30, 1383.9, 1740, 1143.3, 1498.3, "Magnitude 30nA-m", 1556, 1122, 29.5),
    (d_ctf_5, 955.3, 1309.9, 1579.3, 1934, "Magnitude 5nA-m", 1132.9, 1556, 29.5),
    (d_ctf_30, 1381.3, 1736.9, 1579.3, 1934, "Magnitude 30nA-m", 1558.9, 1556, 29.5),
]
for z, l, r, t, b, title, tx, ty, ts in d_panels:
    xa, ya = axes(l, r, t, b, dict(hidden, range=[0, 100]), dict(hidden, range=[100, 0]))
    fig.add_trace(go.Heatmap(z=z, x=d_grid, y=d_grid, xaxis=xa, yaxis=ya, coloraxis="coloraxis2", zsmooth="best", hoverinfo="skip"))
    fig.add_trace(go.Scatter(x=dipole_x, y=dipole_y, xaxis=xa, yaxis=ya, mode="markers",
                             marker=dict(color="#ff0000", size=7.5), showlegend=False))
    text(tx, ty, title, ts, "#111")

# ---------- Side labels and panel letters ----------
text(28, 1294.6, "OPM", 48, "#111", DEJA, angle=-90)
text(28, 1731, "CTF", 46, "#111", DEJA, angle=-90)
text(911, 1330, "OPM", 48, "#111", DEJA, angle=-90)
text(908, 1759, "CTF", 46, "#111", DEJA, angle=-90)
for lab, x, y in zip(letters, [42, 920, 28, 908], [41, 41, 1047, 1043]):
    text(x, y, lab, 70, "#000", "'Liberation Sans', sans-serif")
text(290, 1965, "<b><i>r</i></b>", 54, "#000", DEJA)
text(1070, 1988, "SNR", 46, "#000")

cbar_common = dict(orientation="h", xanchor="left", yanchor="top", xpad=0, ypad=0, lenmode="pixels", thicknessmode="pixels",
                   outlinecolor="#222", outlinewidth=2, ticks="outside", tickwidth=2, tickcolor="#333")
layout["coloraxis"] = dict(cmin=0, cmax=1, colorscale="Viridis", colorbar=dict(cbar_common, x=px(334.3), y=py(1965), len=286.4, thickness=14.3, ticklen=9,
                           tickvals=[0, .2, .4, .6, .8, 1], ticktext=["0.0", "0.2", "0.4", "0.6", "0.8", "1.0"],
                           tickfont=dict(family=DEJA, size=25, color="#111")))
layout["coloraxis2"] = dict(cmin=0, cmax=8, colorscale="Viridis", colorbar=dict(cbar_common, x=px(1153.3), y=py(1976.7), len=382, thickness=19.3, ticklen=7,
                            tickvals=[0, 2, 4, 6, 8], ticktext=["0", "2", "4", "6", "8"],
                            tickfont=dict(family=LATO, size=25, color="#111")))

fig.update_layout(width=W, height=H, margin=dict(l=0, r=0, t=0, b=0, autoexpand=False), paper_bgcolor="white", plot_bgcolor="white",
                  showlegend=False, annotations=annotations, shapes=shapes, **layout)
fig.write_html("out.html", config=dict(displayModeBar=False), post_script="document.body.style.margin='0';")
